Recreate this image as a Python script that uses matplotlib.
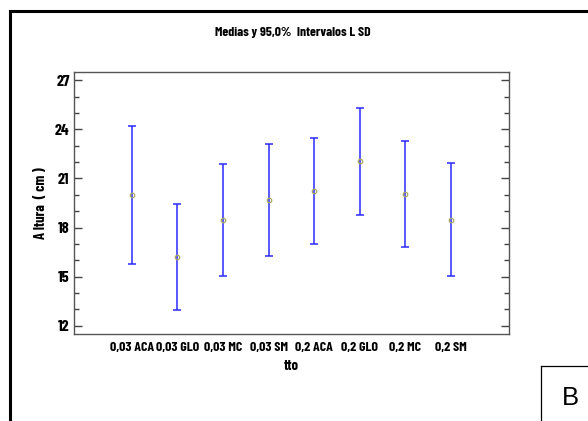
import matplotlib as mpl
mpl.use('Agg')
import matplotlib.pyplot as plt
from matplotlib.lines import Line2D
from matplotlib.ticker import MultipleLocator
import numpy as np

# tratamientos y medias con sus limites LSD (95%)
tto = ['0,03 ACA', '0,03 GLO', '0,03 MC', '0,03 SM',
       '0,2 ACA', '0,2 GLO', '0,2 MC', '0,2 SM']
medias = [20.0, 16.2, 18.45, 19.67, 20.26, 22.05, 20.04, 18.47]
lim_inf = [15.78, 12.97, 15.03, 16.23, 16.98, 18.79, 16.78, 15.06]
lim_sup = [24.19, 19.43, 21.87, 23.13, 23.46, 25.29, 23.27, 21.93]

plt.rcParams['font.family'] = ['Barlow Condensed', 'DejaVu Sans']

fig = plt.figure(figsize=(5.88, 4.21), dpi=100)
W, H = 588., 421.
ax = fig.add_axes([73.7/W, 1-334/H, (509-73.7)/W, (334-71.7)/H])

x = np.arange(1, len(tto)+1)
m = np.array(medias)
err = [m-np.array(lim_inf), np.array(lim_sup)-m]
ax.errorbar(x, m, yerr=err, fmt='none', ecolor='#2a2aff', elinewidth=1.1,
            capsize=2.7, capthick=1.1)
ax.plot(x, m, 'o', ms=3.2, mfc='none', mec='#a8a860', mew=0.9)

ax.set_xlim(-0.27, 9.27)
ax.set_ylim(11.49, 27.53)
ax.set_xticks(x)
ax.set_xticklabels(tto)
ax.yaxis.set_major_locator(MultipleLocator(3))
ax.yaxis.set_minor_locator(MultipleLocator(1))
ax.tick_params(axis='x', length=0, pad=6, labelsize=10, colors='black')
ax.tick_params(axis='y', which='major', direction='in', length=6, width=1,
               right=True, labelsize=11.5, color='#444444', pad=3)
ax.tick_params(axis='y', which='minor', direction='in', length=3.5, width=1,
               right=True, color='#444444')
for lb in ax.get_xticklabels() + ax.get_yticklabels():
    lb.set_fontweight('bold')
for s in ax.spines.values():
    s.set_color('#555555')
    s.set_linewidth(1.0)

ax.set_xlabel('tto', fontsize=10.5, fontweight='bold', labelpad=4)
ax.set_ylabel('A ltura  ( cm )', fontsize=10.5, fontweight='bold', labelpad=5)

fig.text(293/W, 1-36/H, 'Medias y 95,0%  Intervalos L SD', ha='center',
         va='baseline', fontsize=9.8, fontweight='bold')

# marco exterior y recuadro "B"
fig.add_artist(Line2D([10/W, 1], [1-11/H, 1-11/H], color='black', lw=2.2))
fig.add_artist(Line2D([10/W, 10/W], [1-11/H, 0], color='black', lw=2.2))
fig.add_artist(Line2D([541/W, 1], [1-366/H, 1-366/H], color='black', lw=0.9))
fig.add_artist(Line2D([541/W, 541/W], [1-366/H, 0], color='black', lw=0.9))
fig.text(570/W, 1-405/H, 'B', ha='center', va='baseline', fontsize=18.5,
         family=['Liberation Sans', 'DejaVu Sans'])

fig.savefig('out.png', dpi=100)
